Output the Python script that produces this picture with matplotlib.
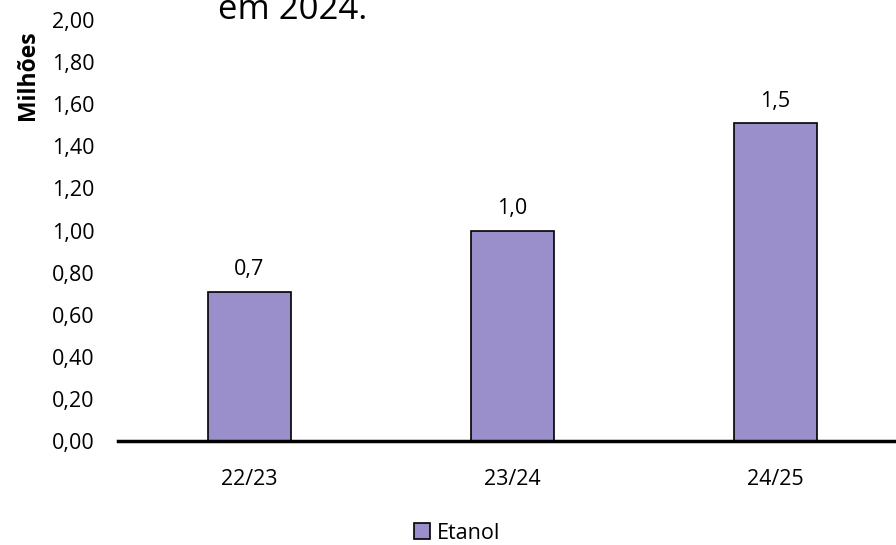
import matplotlib.pyplot as plt

# dados do gráfico (milhões)
safras = ['22/23', '23/24', '24/25']
etanol = [0.71, 1.0, 1.51]
rotulos = ['0,7', '1,0', '1,5']
yticks = [0.0, 0.2, 0.4, 0.6, 0.8, 1.0, 1.2, 1.4, 1.6, 1.8, 2.0]

plt.rcParams['font.family'] = ['Open Sans', 'DejaVu Sans']

fig = plt.figure(figsize=(8.96, 5.45), dpi=100)
ax = fig.add_axes([0.1317, 0.1908, 0.8806, 0.7725])

x = range(len(safras))
bars = ax.bar(x, etanol, width=0.315, color='#9A8FCA', edgecolor='black',
              linewidth=1.2, label='Etanol', zorder=2)

for xi, v, lab in zip(x, etanol, rotulos):
    ax.text(xi, v + 0.055, lab, ha='center', va='bottom', fontsize=15.5)

ax.set_xlim(-0.5, 2.5)
ax.set_ylim(0, 2.0)
ax.set_xticks(list(x))
ax.set_xticklabels(safras, fontsize=15.5)
ax.set_yticks(yticks)
ax.set_yticklabels([f'{t:.2f}'.replace('.', ',') for t in yticks], fontsize=15.5)
ax.tick_params(axis='both', length=0)
ax.tick_params(axis='x', pad=20)
ax.tick_params(axis='y', pad=17)

for s in ['top', 'right', 'left']:
    ax.spines[s].set_visible(False)
ax.spines['bottom'].set_linewidth(2.5)
ax.spines['bottom'].set_zorder(3)

fig.text(0.031, 0.862, 'Milhões', rotation=90, ha='center', va='center',
         fontsize=16.5, fontweight='bold')
fig.text(0.243, 1 - 19 / 545, 'em 2024.', ha='left', va='baseline',
         fontsize=25)

fig.legend(loc='center', bbox_to_anchor=(0.51, 0.022), frameon=False,
           fontsize=15.5, handlelength=0.75, handleheight=0.75, handletextpad=0.3)

fig.savefig('out.png', dpi=100)
